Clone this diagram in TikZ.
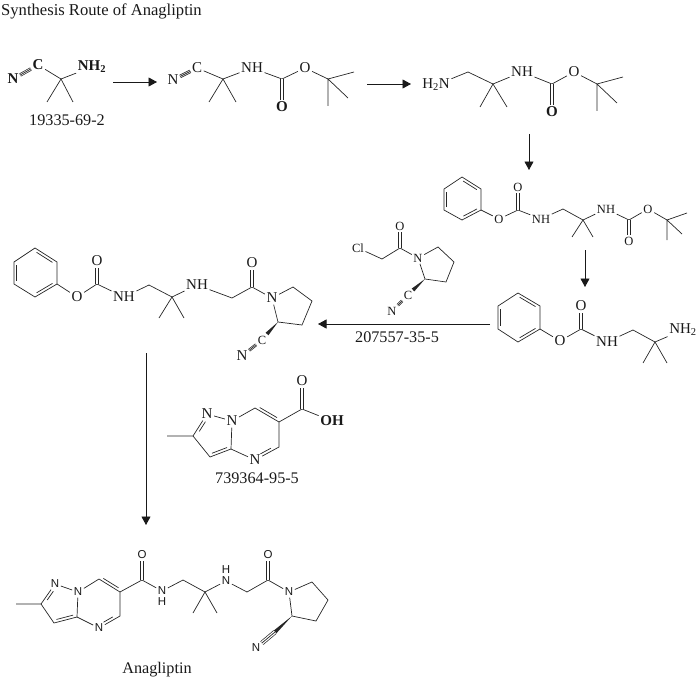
\documentclass[tikz,border=0pt]{standalone}
\usepackage{fontspec}
\setmainfont{Liberation Serif}
\setsansfont{Liberation Sans}
\usetikzlibrary{calc}
\usetikzlibrary{arrows.meta}

% second stroke of a ring double bond, on the given side
\newcommand{\innerbond}[4][0.14]{%
    \draw[bond] ($(#2)!#1!(#3)!2.8pt!#4:(#3)$) -- ($(#3)!#1!(#2)!2.8pt!-#4:(#2)$);
}
\newcommand{\triplebond}[3][2pt]{%
    \draw[bond,double,double distance=#1] (#2) -- (#3);
    \draw[bond] (#2) -- (#3);
}
\newcommand{\wedgebond}[2]{%
    \fill[black!85] (#1) -- ($(#2)!1.9pt!90:(#1)$) -- ($(#2)!1.9pt!-90:(#1)$) -- cycle;
}

\begin{document}
\begin{tikzpicture}[%
    x=1pt,
    y=-1pt,
    bond/.style={%
        line width=0.7pt,
        draw=black!85
    },
    carbonyl/.style={%
        bond,
        double,
        double distance=2.2pt
    },
    atom/.style={%
        inner sep=1.5pt,
        font=\fontsize{15}{15}\selectfont,
        text=black!90
    },
    boldatom/.style={%
        atom,
        font=\fontsize{15}{15}\selectfont\bfseries
    },
    smallatom/.style={%
        atom,
        font=\fontsize{12.5}{12.5}\selectfont
    },
    sansatom/.style={%
        inner sep=1.5pt,
        font=\fontsize{11.5}{11.5}\selectfont\sffamily,
        text=black!90
    },
    caption/.style={%
        inner sep=0pt,
        font=\fontsize{16.2}{16.2}\selectfont,
        text=black!90
    },
    route/.style={%
        line width=0.9pt,
        draw=black!90,
        -{Triangle[length=8.5pt,width=9pt]}
    }
]
\useasboundingbox (0,0) rectangle (700,679);

% Title
    \node[caption,anchor=west,font=\fontsize{16.6}{16.6}\selectfont] (title) at (1,11) {Synthesis Route of Anagliptin};

% Starting nitrile
    \node[boldatom] (startN) at (13,79) {N};
    \node[boldatom] (startC) at (38,65) {C};
    \node[boldatom] (startNH) at (92,67) {NH\textsubscript{2}};
    \coordinate (startQ) at (61,79);
    \coordinate (startMe1) at (47,102);
    \coordinate (startMe2) at (73,102);
    \node[caption] (startLabel) at (67,120) {19335-69-2};
    \triplebond{startN}{startC}
    \draw[bond] (startC) -- (startQ) -- (startNH);
    \draw[bond] (startMe1) -- (startQ) -- (startMe2);

% Boc nitrile
    \node[atom] (bocN) at (173,80) {N};
    \node[atom] (bocC) at (197,68) {C};
    \coordinate (bocQ) at (223,79);
    \node[atom] (bocNH) at (252,68) {NH};
    \coordinate (bocCO) at (282,79);
    \node[boldatom] (bocO1) at (282,107) {O};
    \node[atom] (bocO2) at (305,68) {O};
    \coordinate (bocT) at (328,79);
    \coordinate (bocMe1) at (209,102);
    \coordinate (bocMe2) at (236,102);
    \coordinate (bocMe3) at (354,72);
    \coordinate (bocMe4) at (348,98);
    \coordinate (bocMe5) at (328,106);
    \triplebond{bocN}{bocC}
    \draw[bond] (bocC) -- (bocQ) -- (bocNH) -- (bocCO) -- (bocO2) -- (bocT) -- (bocMe3);
    \draw[bond] (bocMe1) -- (bocQ) -- (bocMe2);
    \draw[carbonyl] (bocCO) -- (bocO1);
    \draw[bond] (bocMe4) -- (bocT) -- (bocMe5);

% Boc diamine
    \node[atom] (diaN) at (436,85) {H\textsubscript{2}N};
    \coordinate (diaCH) at (468,72);
    \coordinate (diaQ) at (493,84);
    \node[atom] (diaNH) at (522,72) {NH};
    \coordinate (diaCO) at (552,84);
    \node[boldatom] (diaO1) at (552,112) {O};
    \node[atom] (diaO2) at (574,72) {O};
    \coordinate (diaT) at (597,84);
    \coordinate (diaMe1) at (480,107);
    \coordinate (diaMe2) at (507,107);
    \coordinate (diaMe3) at (623,77);
    \coordinate (diaMe4) at (617,103);
    \coordinate (diaMe5) at (597,111);
    \draw[bond] (diaN) -- (diaCH) -- (diaQ) -- (diaNH) -- (diaCO) -- (diaO2) -- (diaT) -- (diaMe3);
    \draw[bond] (diaMe1) -- (diaQ) -- (diaMe2);
    \draw[carbonyl] (diaCO) -- (diaO1);
    \draw[bond] (diaMe4) -- (diaT) -- (diaMe5);

% Phenyl carbamate, Boc protected
    \coordinate (carbA1) at (462,177);
    \coordinate (carbA2) at (481,189);
    \coordinate (carbA3) at (481,210);
    \coordinate (carbA4) at (462,220);
    \coordinate (carbA5) at (444,210);
    \coordinate (carbA6) at (444,189);
    \node[smallatom] (carbO1) at (499,219) {O};
    \coordinate (carbCO) at (518,210);
    \node[smallatom] (carbO2) at (518,187) {O};
    \node[smallatom] (carbNH1) at (541,219) {NH};
    \coordinate (carbCH) at (563,209);
    \coordinate (carbQ) at (583,220);
    \coordinate (carbMe1) at (572,237);
    \coordinate (carbMe2) at (593,237);
    \node[smallatom] (carbNH2) at (606,209) {NH};
    \coordinate (carbCO2) at (629,220);
    \node[smallatom] (carbO3) at (629,241) {O};
    \node[smallatom] (carbO4) at (648,209) {O};
    \coordinate (carbT) at (667,220);
    \coordinate (carbMe3) at (687,213);
    \coordinate (carbMe4) at (682,234);
    \coordinate (carbMe5) at (667,240);
    \draw[bond] (carbA1) -- (carbA2) -- (carbA3) -- (carbA4) -- (carbA5) -- (carbA6) -- cycle;
    \innerbond{carbA1}{carbA2}{-90}
    \innerbond{carbA3}{carbA4}{-90}
    \innerbond{carbA5}{carbA6}{-90}
    \draw[bond] (carbA3) -- (carbO1) -- (carbCO) -- (carbNH1) -- (carbCH) -- (carbQ) -- (carbNH2) -- (carbCO2) -- (carbO4) -- (carbT) -- (carbMe3);
    \draw[carbonyl] (carbCO) -- (carbO2);
    \draw[carbonyl] (carbCO2) -- (carbO3);
    \draw[bond] (carbMe1) -- (carbQ) -- (carbMe2);
    \draw[bond] (carbMe4) -- (carbT) -- (carbMe5);

% Phenyl carbamate, free amine
    \coordinate (freeA1) at (518,293);
    \coordinate (freeA2) at (540,306);
    \coordinate (freeA3) at (540,329);
    \coordinate (freeA4) at (518,342);
    \coordinate (freeA5) at (498,329);
    \coordinate (freeA6) at (498,306);
    \node[atom] (freeO1) at (560,341) {O};
    \coordinate (freeCO) at (581,329);
    \node[atom] (freeO2) at (581,306) {O};
    \node[atom] (freeNH) at (607,342) {NH};
    \coordinate (freeCH) at (633,330);
    \coordinate (freeQ) at (655,342);
    \coordinate (freeMe1) at (643,363);
    \coordinate (freeMe2) at (667,363);
    \node[atom] (freeNH2) at (683,330) {NH\textsubscript{2}};
    \draw[bond] (freeA1) -- (freeA2) -- (freeA3) -- (freeA4) -- (freeA5) -- (freeA6) -- cycle;
    \innerbond{freeA1}{freeA2}{-90}
    \innerbond{freeA3}{freeA4}{-90}
    \innerbond{freeA5}{freeA6}{-90}
    \draw[bond] (freeA3) -- (freeO1) -- (freeCO) -- (freeNH) -- (freeCH) -- (freeQ) -- (freeNH2);
    \draw[carbonyl] (freeCO) -- (freeO2);
    \draw[bond] (freeMe1) -- (freeQ) -- (freeMe2);

% Chloroacetyl reagent
    \node[smallatom] (chlorCl) at (358,248) {Cl};
    \coordinate (chlorCH) at (382,259);
    \coordinate (chlorCO) at (400,248);
    \node[smallatom] (chlorO) at (400,226) {O};
    \node[smallatom] (chlorN) at (418,258) {N};
    \coordinate (chlorR1) at (438,247);
    \coordinate (chlorR2) at (454,262);
    \coordinate (chlorR3) at (446,282);
    \coordinate (chlorR4) at (425,279);
    \coordinate (chlorW) at (413,290);
    \node[smallatom] (chlorC) at (408,295) {C};
    \node[smallatom] (chlorN2) at (392,311) {N};
    \node[caption] (chlorLabel) at (397,337) {207557-35-5};
    \draw[bond] (chlorCl) -- (chlorCH) -- (chlorCO) -- (chlorN) -- (chlorR1) -- (chlorR2) -- (chlorR3) -- (chlorR4) -- (chlorN);
    \draw[carbonyl] (chlorCO) -- (chlorO);
    \wedgebond{chlorR4}{chlorW}
    \triplebond[1.6pt]{chlorC}{chlorN2}

% Coupled intermediate
    \coordinate (coupA1) at (35,248);
    \coordinate (coupA2) at (57,262);
    \coordinate (coupA3) at (57,284);
    \coordinate (coupA4) at (35,297);
    \coordinate (coupA5) at (14,284);
    \coordinate (coupA6) at (14,262);
    \node[atom] (coupO1) at (77,297) {O};
    \coordinate (coupCO) at (97,284);
    \node[atom] (coupO2) at (97,261) {O};
    \node[atom] (coupNH1) at (124,297) {NH};
    \coordinate (coupCH) at (149,285);
    \coordinate (coupQ) at (172,297);
    \coordinate (coupMe1) at (159,318);
    \coordinate (coupMe2) at (184,318);
    \node[atom] (coupNH2) at (197,285) {NH};
    \coordinate (coupCH2) at (232,298);
    \coordinate (coupCO2) at (252,287);
    \node[atom] (coupO3) at (252,263) {O};
    \node[atom] (coupN) at (272,298) {N};
    \coordinate (coupR1) at (293,287);
    \coordinate (coupR2) at (312,301);
    \coordinate (coupR3) at (302,325);
    \coordinate (coupR4) at (278,322);
    \coordinate (coupW) at (267,334);
    \node[smallatom] (coupC) at (262,340) {C};
    \node[atom] (coupN2) at (242,356) {N};
    \draw[bond] (coupA1) -- (coupA2) -- (coupA3) -- (coupA4) -- (coupA5) -- (coupA6) -- cycle;
    \innerbond{coupA1}{coupA2}{-90}
    \innerbond{coupA3}{coupA4}{-90}
    \innerbond{coupA5}{coupA6}{-90}
    \draw[bond] (coupA3) -- (coupO1) -- (coupCO) -- (coupNH1) -- (coupCH) -- (coupQ) -- (coupNH2) -- (coupCH2) -- (coupCO2) -- (coupN) -- (coupR1) -- (coupR2) -- (coupR3) -- (coupR4) -- (coupN);
    \draw[carbonyl] (coupCO) -- (coupO2);
    \draw[carbonyl] (coupCO2) -- (coupO3);
    \draw[bond] (coupMe1) -- (coupQ) -- (coupMe2);
    \wedgebond{coupR4}{coupW}
    \triplebond[1.6pt]{coupC}{coupN2}

% Acid reagent
    \coordinate (acidMe) at (167,436);
    \coordinate (acidC1) at (193,436);
    \node[atom] (acidN1) at (207,414) {N};
    \node[atom] (acidN2) at (232,421) {N};
    \coordinate (acidC2) at (231,449);
    \coordinate (acidC3) at (210,457);
    \node[atom] (acidN3) at (255,460) {N};
    \coordinate (acidC4) at (279,447);
    \coordinate (acidC5) at (279,422);
    \coordinate (acidC6) at (255,408);
    \coordinate (acidCO) at (302,409);
    \node[atom] (acidO) at (302,381) {O};
    \node[boldatom] (acidOH) at (332,421) {OH};
    \node[caption] (acidLabel) at (257,478) {739364-95-5};
    \draw[bond] (acidMe) -- (acidC1) -- (acidN1) -- (acidN2) -- (acidC2) -- (acidC3) -- (acidC1);
    \draw[bond] (acidC2) -- (acidN3) -- (acidC4) -- (acidC5) -- (acidC6) -- (acidN2);
    \innerbond[0.28]{acidC1}{acidN1}{-90}
    \innerbond{acidC2}{acidC3}{-90}
    \innerbond{acidC5}{acidC6}{-90}
    \innerbond[0.28]{acidC4}{acidN3}{-90}
    \draw[bond] (acidC5) -- (acidCO) -- (acidOH);
    \draw[carbonyl] (acidCO) -- (acidO);

% Anagliptin
    \coordinate (anaMe) at (16,604);
    \coordinate (anaC1) at (41,604);
    \node[sansatom] (anaN1) at (55,584) {N};
    \node[sansatom] (anaN2) at (78,592) {N};
    \coordinate (anaC2) at (77,617);
    \coordinate (anaC3) at (54,623);
    \node[sansatom] (anaN3) at (99,628) {N};
    \coordinate (anaC4) at (120,616);
    \coordinate (anaC5) at (120,592);
    \coordinate (anaC6) at (99,579);
    \coordinate (anaCO) at (142,580);
    \node[sansatom] (anaO) at (142,555) {O};
    \node[sansatom] (anaNH) at (162,591) {N};
    \node[sansatom,inner sep=0pt] (anaH) at (162,602) {H};
    \coordinate (anaCH) at (183,580);
    \coordinate (anaQ) at (205,592);
    \coordinate (anaMe1) at (193,613);
    \coordinate (anaMe2) at (217,613);
    \node[sansatom] (anaNH2) at (226,581) {N};
    \node[sansatom,inner sep=0pt] (anaH2) at (226,570) {H};
    \coordinate (anaCH2) at (247,592);
    \coordinate (anaCO2) at (268,580);
    \node[sansatom] (anaO2) at (268,555) {O};
    \node[sansatom] (anaN) at (289,592) {N};
    \coordinate (anaR1) at (312,582);
    \coordinate (anaR2) at (328,600);
    \coordinate (anaR3) at (316,621);
    \coordinate (anaR4) at (292,616);
    \coordinate (anaW) at (275,632);
    \node[sansatom] (anaN4) at (256,648) {N};
    \node[caption] (anaLabel) at (157,670) {Anagliptin};
    \draw[bond] (anaMe) -- (anaC1) -- (anaN1) -- (anaN2) -- (anaC2) -- (anaC3) -- (anaC1);
    \draw[bond] (anaC2) -- (anaN3) -- (anaC4) -- (anaC5) -- (anaC6) -- (anaN2);
    \innerbond[0.28]{anaC1}{anaN1}{-90}
    \innerbond{anaC2}{anaC3}{-90}
    \innerbond{anaC5}{anaC6}{-90}
    \innerbond[0.28]{anaC4}{anaN3}{-90}
    \draw[bond] (anaC5) -- (anaCO) -- (anaNH) -- (anaCH) -- (anaQ) -- (anaNH2) -- (anaCH2) -- (anaCO2) -- (anaN) -- (anaR1) -- (anaR2) -- (anaR3) -- (anaR4) -- (anaN);
    \draw[carbonyl] (anaCO) -- (anaO);
    \draw[carbonyl] (anaCO2) -- (anaO2);
    \draw[bond] (anaMe1) -- (anaQ) -- (anaMe2);
    \wedgebond{anaR4}{anaW}
    \triplebond[3.2pt]{anaW}{anaN4}

% Arrow ends
    \coordinate (arrow1a) at (113,82);
    \coordinate (arrow1b) at (157,82);
    \coordinate (arrow2a) at (367,84);
    \coordinate (arrow2b) at (411,84);
    \coordinate (arrow3a) at (529,134);
    \coordinate (arrow3b) at (529,170);
    \coordinate (arrow4a) at (585,250);
    \coordinate (arrow4b) at (585,287);
    \coordinate (arrow5a) at (490,324);
    \coordinate (arrow5b) at (318,324);
    \coordinate (arrow6a) at (146,353);
    \coordinate (arrow6b) at (146,525);

% Arrows
\draw[route] (arrow1a) -- (arrow1b);
\draw[route] (arrow2a) -- (arrow2b);
\draw[route] (arrow3a) -- (arrow3b);
\draw[route] (arrow4a) -- (arrow4b);
\draw[route] (arrow5a) -- (arrow5b);
\draw[route] (arrow6a) -- (arrow6b);

\end{tikzpicture}
\end{document}
